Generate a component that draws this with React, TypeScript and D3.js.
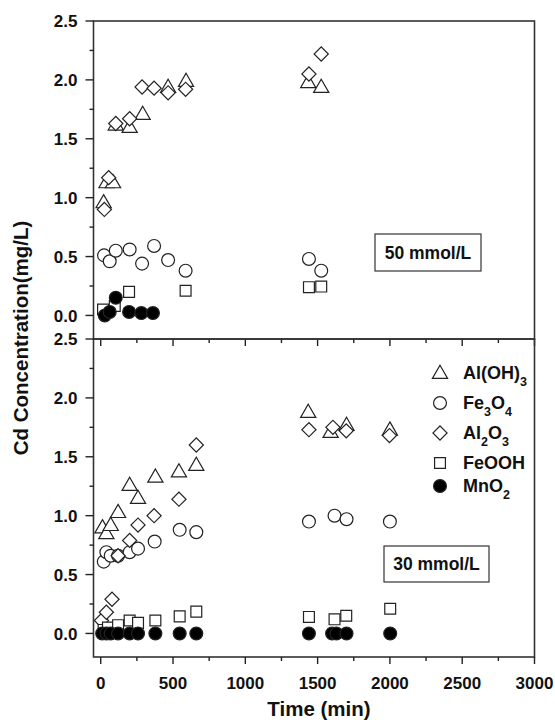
import React from 'react'
import * as d3 from 'd3'

// [time (min), Cd (mg/L)]
const alOH3_50: [number, number][] = [
  [20, 0.96], [40, 1.13], [85, 1.13], [104, 1.62], [200, 1.60], [290, 1.71],
  [466, 1.94], [590, 1.99], [1435, 1.98], [1525, 1.94]
]
const fe3o4_50: [number, number][] = [
  [23, 0.51], [62, 0.46], [104, 0.55], [200, 0.56], [286, 0.44], [369, 0.59],
  [466, 0.47], [587, 0.38], [1440, 0.48], [1525, 0.38]
]
const al2o3_50: [number, number][] = [
  [25, 0.90], [55, 1.17], [104, 1.63], [200, 1.67], [286, 1.94], [369, 1.93],
  [466, 1.89], [587, 1.92], [1440, 2.05], [1525, 2.22]
]
const feooh_50: [number, number][] = [
  [16, 0.05], [97, 0.08], [196, 0.20], [587, 0.21], [1440, 0.24], [1525, 0.245]
]
const mno2_50: [number, number][] = [
  [28, 0.0], [62, 0.03], [104, 0.15], [196, 0.03], [281, 0.02], [361, 0.02]
]

const alOH3_30: [number, number][] = [
  [12, 0.90], [39, 0.85], [69, 0.92], [120, 1.03], [200, 1.26], [258, 1.15],
  [378, 1.33], [541, 1.375], [661, 1.43], [1435, 1.88], [1590, 1.71], [1700, 1.77], [2000, 1.73]
]
const fe3o4_30: [number, number][] = [
  [21, 0.61], [39, 0.69], [69, 0.66], [120, 0.66], [200, 0.69], [258, 0.72],
  [373, 0.78], [546, 0.88], [661, 0.86], [1440, 0.95], [1617, 1.0], [1700, 0.97], [2000, 0.95]
]
const al2o3_30: [number, number][] = [
  [5, 0.11], [39, 0.18], [78, 0.29], [120, 0.66], [200, 0.79], [258, 0.92],
  [369, 1.0], [541, 1.14], [661, 1.60], [1440, 1.73], [1606, 1.75], [1698, 1.72], [1997, 1.68]
]
const feooh_30: [number, number][] = [
  [20, 0.03], [50, 0.05], [120, 0.07], [200, 0.11], [258, 0.09], [378, 0.11],
  [546, 0.145], [661, 0.185], [1440, 0.14], [1617, 0.12], [1698, 0.15], [2002, 0.21]
]
const mno2_30: [number, number][] = [
  [10, 0], [40, 0], [69, 0], [120, 0], [200, 0], [258, 0], [378, 0], [546, 0],
  [661, 0], [1440, 0], [1600, 0], [1630, 0], [1700, 0], [2002, 0]
]

const panelLabels = ['50 mmol/L', '30 mmol/L']
const legendNames: [string, string, string, string][] = [
  // [main, sub, main, sub]
  ['Al(OH)', '3', '', ''],
  ['Fe', '3', 'O', '4'],
  ['Al', '2', 'O', '3'],
  ['FeOOH', '', '', ''],
  ['MnO', '2', '', '']
]
const yTickValues = [0, 0.5, 1.0, 1.5, 2.0, 2.5]
const xTickValues = [0, 500, 1000, 1500, 2000, 2500, 3000]

const W = 555
const H = 720
const left = 93.5
const right = 534.5
const font = 'Liberation Sans, Arial, sans-serif'
const ink = '#222'

type Shape = 'triangle' | 'circle' | 'diamond' | 'square' | 'dot'
const shapes: Shape[] = ['triangle', 'circle', 'diamond', 'square', 'dot']

const symPath = (s: Shape) => {
  if (s === 'triangle') return d3.symbol().type(d3.symbolTriangle).size(100)()
  if (s === 'circle' || s === 'dot') return d3.symbol().type(d3.symbolCircle).size(130)()
  if (s === 'square') return d3.symbol().type(d3.symbolSquare).size(118)()
  return d3.symbol().type(d3.symbolSquare).size(100)()
}

const Marker = ({ s, x, y }: { s: Shape; x: number; y: number }) => (
  <path
    d={symPath(s) || ''}
    transform={`translate(${x},${y + (s === 'triangle' ? 1 : 0)})${s === 'diamond' ? ' rotate(45)' : ''}`}
    fill={s === 'dot' ? '#000' : '#fff'}
    stroke={ink}
    strokeWidth={1.2}
  />
)

const x = d3.scaleLinear().domain([-50, 3000]).range([left, right])

const Panel = ({ top, bottom, series, label, box, showXLabels }: any) => {
  const y = d3.scaleLinear().domain([-0.2, 2.5]).range([bottom, top])
  const minorY = d3.range(0, 2.5001, 0.25)
  const minorX = d3.range(0, 3001, 250)
  return (
    <g>
      {series.map((pts: [number, number][], i: number) => (
        <g key={i}>
          {pts.map((p, j) => <Marker key={j} s={shapes[i]} x={x(p[0])} y={y(p[1])} />)}
        </g>
      ))}
      <rect x={left} y={top} width={right - left} height={bottom - top} fill="none" stroke="#333" strokeWidth={1.6} />
      {minorY.map(v => (
        <line key={v} x1={left} x2={left - (yTickValues.includes(+v.toFixed(2)) ? 8 : 4)} y1={y(v)} y2={y(v)} stroke={ink} strokeWidth={1.4} />
      ))}
      {yTickValues.map(v => (
        <text key={v} x={left - 16} y={y(v)} dy="0.36em" textAnchor="end" fontFamily={font} fontWeight="bold" fontSize={17} fill="#111">
          {v.toFixed(1)}
        </text>
      ))}
      {minorX.map(v => (
        <line key={v} x1={x(v)} x2={x(v)} y1={bottom} y2={bottom + (v % 500 === 0 ? 7 : 4)} stroke={ink} strokeWidth={1.4} />
      ))}
      {showXLabels && xTickValues.map(v => (
        <text key={v} x={x(v)} y={bottom + 32} textAnchor="middle" fontFamily={font} fontWeight="bold" fontSize={17} fill="#111">
          {v}
        </text>
      ))}
      <rect x={box[0]} y={box[1]} width={box[2]} height={box[3]} fill="#fff" stroke="#333" strokeWidth={1.2} />
      <text x={box[0] + box[2] / 2} y={box[1] + box[3] / 2} dy="0.36em" textAnchor="middle" fontFamily={font} fontWeight="bold" fontSize={17.5} fill="#111">
        {label}
      </text>
    </g>
  )
}

const legendY = [373, 403, 433, 463, 486]

export default function App() {
  return (
    <svg width={W} height={H} style={{ position: 'absolute', left: 0, top: 0, background: '#fff' }}>
      <Panel
        top={21}
        bottom={339}
        series={[alOH3_50, fe3o4_50, al2o3_50, feooh_50, mno2_50]}
        label={panelLabels[0]}
        box={[375, 234, 106, 37]}
        showXLabels={false}
      />
      <Panel
        top={339}
        bottom={657}
        series={[alOH3_30, fe3o4_30, al2o3_30, feooh_30, mno2_30]}
        label={panelLabels[1]}
        box={[384, 546, 105, 36]}
        showXLabels={true}
      />
      {legendNames.map((n, i) => (
        <g key={i}>
          <Marker s={shapes[i]} x={440} y={legendY[i]} />
          <text x={463} y={legendY[i]} dy="0.36em" fontFamily={font} fontWeight="bold" fontSize={18} fill="#111">
            {n[0]}
            {n[1] && <tspan dy={7} fontSize={12.5}>{n[1]}</tspan>}
            {n[2] && <tspan dy={-7}>{n[2]}</tspan>}
            {n[3] && <tspan dy={7} fontSize={12.5}>{n[3]}</tspan>}
          </text>
        </g>
      ))}
      <text
        transform="translate(28,338) rotate(-90)"
        textAnchor="middle"
        fontFamily={font}
        fontWeight="bold"
        fontSize={20.5}
        fill="#111"
      >
        Cd Concentration(mg/L)
      </text>
      <text x={319} y={716} textAnchor="middle" fontFamily={font} fontWeight="bold" fontSize={20.5} fill="#111">
        Time (min)
      </text>
    </svg>
  )
}
